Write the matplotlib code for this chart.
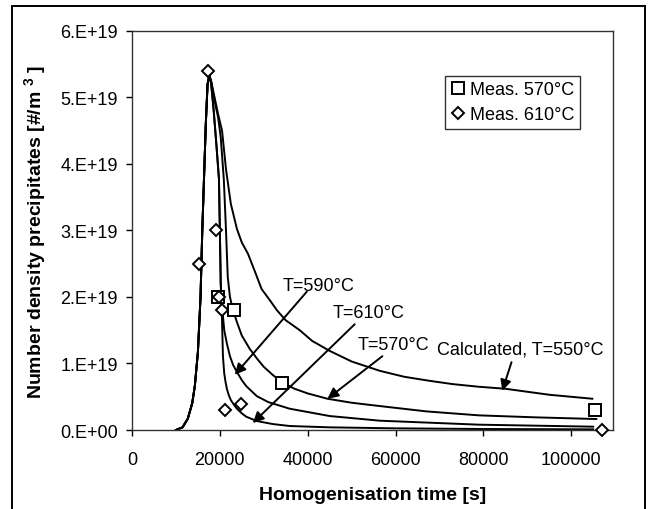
import matplotlib.pyplot as plt
from matplotlib.patches import Rectangle

plt.rcParams['font.family'] = ['Liberation Sans', 'DejaVu Sans']
plt.rcParams['mathtext.fontset'] = 'custom'
plt.rcParams['mathtext.rm'] = 'Liberation Sans'
plt.rcParams['mathtext.bf'] = 'Liberation Sans:bold'

# shared nucleation branch up to the peak (time in s, density in 1e19 #/m3)
rise_t = [10000, 11500, 12700, 13700, 14300, 15000, 15600, 16000, 16400, 16800, 17200, 17600]
rise_n = [0.0, 0.04, 0.17, 0.40, 0.66, 1.17, 2.0, 3.0, 3.8, 4.6, 5.2, 5.33]

# decay branches after the peak
t610 = [18000, 18600, 19200, 19800, 20000, 20200, 20400, 20550, 20700, 21000, 21300, 21600, 22000,
        22500, 23200, 23900, 25000, 26000, 28400, 32000, 35900, 45000, 60000, 80000, 105000]
n610 = [5.22, 4.8, 4.3, 3.77, 3.0, 2.2, 1.9, 1.5, 1.11, 0.85, 0.72, 0.62, 0.53,
        0.45, 0.38, 0.32, 0.25, 0.2, 0.135, 0.09, 0.06, 0.04, 0.025, 0.015, 0.01]

t590 = [18000, 18600, 19200, 19800, 20000, 20200, 20500, 21000, 21600, 22300, 23000, 23900, 25000,
        26000, 28400, 31000, 35900, 45000, 56400, 79000, 105000]
n590 = [5.22, 4.8, 4.3, 3.77, 3.0, 2.2, 1.85, 1.5, 1.3, 1.11, 0.98, 0.87, 0.75,
        0.66, 0.51, 0.42, 0.32, 0.21, 0.14, 0.08, 0.05]

t570 = [18000, 18800, 19600, 20200, 20900, 21400, 21800, 22300, 23000, 23900, 25000, 26800,
        28500, 30000, 32000, 34100, 37000, 40000, 44500, 50000, 56400, 67000, 79000, 92000, 105700]
n570 = [5.25, 4.95, 4.7, 4.4, 3.77, 3.0, 2.3, 2.0, 1.8, 1.62, 1.42, 1.22,
        1.07, 0.95, 0.83, 0.72, 0.62, 0.55, 0.47, 0.41, 0.36, 0.28, 0.22, 0.19, 0.165]

t550 = [18000, 18800, 19600, 20500, 21400, 22500, 23900, 25000, 26400, 28000, 29500, 31400, 33000,
        35000, 38200, 41000, 45000, 50000, 56400, 62000, 67700, 73000, 79000, 85000, 95000, 104800]
n550 = [5.25, 5.0, 4.75, 4.5, 3.92, 3.4, 3.02, 2.82, 2.65, 2.38, 2.12, 1.95, 1.8,
        1.65, 1.5, 1.34, 1.19, 1.03, 0.89, 0.8, 0.74, 0.69, 0.65, 0.62, 0.53, 0.47]

# measurements
meas570_t = [19500, 23200, 34100, 105500]
meas570_n = [2.0, 1.8, 0.7, 0.3]
meas610_t = [15200, 17300, 19100, 19800, 20500, 21100, 24800, 107000]
meas610_n = [2.5, 5.4, 3.0, 2.0, 1.8, 0.3, 0.39, 0.0]

# curve labels: text, text position, arrow tail, arrow tip
labels = ['T=590°C', 'T=610°C', 'T=570°C', 'Calculated, T=550°C']
label_pos = [(34300, 2.18), (45700, 1.77), (51400, 1.29), (69500, 1.22)]
arrow_tail = [(39800, 2.08), (50700, 1.59), (57000, 1.11), (86400, 1.02)]
arrow_tip = [(23400, 0.83), (27500, 0.105), (44500, 0.47), (84300, 0.59)]

yticks = [0, 1, 2, 3, 4, 5, 6]
ytick_labels = ['0.E+00', '1.E+19', '2.E+19', '3.E+19', '4.E+19', '5.E+19', '6.E+19']
xticks = [0, 20000, 40000, 60000, 80000, 100000]


def plotDichte():
    fig = plt.figure(figsize=(6.49, 5.10), dpi=100)
    ax = fig.add_axes([0.2034, 0.1549, 0.7411, 0.7824])

    # outer frame (bottom edge is outside the picture)
    fig.patches.append(Rectangle((12 / 649, -0.1), 633 / 649, 1.1 - 7 / 510, transform=fig.transFigure,
                                 fill=False, edgecolor='black', linewidth=1.4))

    for t, n in [(t610, n610), (t590, n590), (t570, n570), (t550, n550)]:
        ax.plot(rise_t + t, rise_n + n, color='black', linewidth=1.4, zorder=2)

    ax.plot(meas570_t, meas570_n, linestyle='none', marker='s', markersize=8, markerfacecolor='white',
            markeredgecolor='black', markeredgewidth=1.4, label='Meas. 570°C', zorder=3)
    ax.plot(meas610_t, meas610_n, linestyle='none', marker='D', markersize=6.5, markerfacecolor='white',
            markeredgecolor='black', markeredgewidth=1.4, label='Meas. 610°C', zorder=3, clip_on=False)

    for text, pos, tail, tip in zip(labels, label_pos, arrow_tail, arrow_tip):
        ax.text(pos[0], pos[1], text, fontsize=13, ha='left', va='center')
        ax.annotate('', xy=tip, xytext=tail,
                    arrowprops=dict(arrowstyle='-|>', color='black', lw=1.4, mutation_scale=16,
                                    shrinkA=0, shrinkB=0))

    ax.set_xlim(0, 109500)
    ax.set_ylim(0, 6)
    ax.set_xticks(xticks)
    ax.set_xticklabels([str(x) for x in xticks])
    ax.set_yticks(yticks)
    ax.set_yticklabels(ytick_labels)
    ax.tick_params(direction='out', length=4, width=1, labelsize=13, colors='black', pad=6)
    ax.tick_params(axis='x', pad=11)
    for s in ax.spines.values():
        s.set_linewidth(1)
        s.set_color('#333333')

    ax.set_xlabel('Homogenisation time [s]', fontsize=14, fontweight='bold', labelpad=13)
    ax.set_ylabel(r'Number density precipitates [#/m $^{\mathbf{3}}$ ]', fontsize=14,
                  fontweight='bold', labelpad=8)

    leg = ax.legend(loc='upper left', bbox_to_anchor=(0.651, 0.888), fontsize=13, frameon=True,
                    fancybox=False, edgecolor='black', handlelength=0.8, handletextpad=0.3,
                    borderpad=0.3, labelspacing=0.45, borderaxespad=0)
    leg.get_frame().set_linewidth(1)

    fig.savefig('out.png', dpi=100)


if __name__ == "__main__":
    plotDichte()
